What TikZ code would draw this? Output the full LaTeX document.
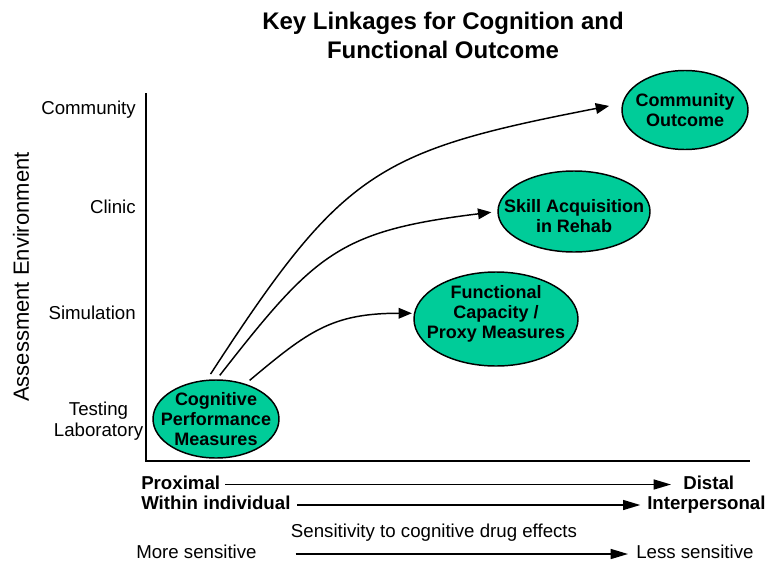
\documentclass[tikz,border=0pt]{standalone}
\usepackage{fontspec}
\setmainfont{Liberation Sans}
\usepackage{xcolor}
\usetikzlibrary{shapes.geometric}
\usetikzlibrary{arrows.meta}
\usetikzlibrary {positioning}
\definecolor{ovalgreen}{RGB}{0,204,153}
\tikzset{main node/.style={ellipse,fill=ovalgreen,draw,line width=1.1pt,inner sep=0pt}}
\tikzset{oval text/.style={font=\fontsize{13.5}{15}\selectfont\bfseries,align=center,inner sep=0pt}}
\tikzset{side label/.style={font=\fontsize{14}{16}\selectfont,inner sep=0pt}}
\tikzset{scale label/.style={font=\fontsize{14}{16}\selectfont,inner sep=0pt,text height=10pt,text depth=3pt}}
\tikzset{link/.style={->,line width=1.1pt,>={Triangle[length=10pt,width=8pt]}}}
\tikzset{scale arrow/.style={->,line width=1.1pt,>={Triangle[length=13pt,width=7.5pt]}}}

\begin{document}
\begin{tikzpicture}[x=0.75pt,y=-0.75pt]
    \useasboundingbox (0,0) rectangle (766,564);

    \node[font=\fontsize{18}{21.75}\selectfont\bfseries,align=center] (title) at (443,35) {Key Linkages for Cognition and\\Functional Outcome};

    % axes
    \draw[line width=1.5pt] (146,93) |- (750,461);

    \node[font=\fontsize{16.5}{19}\selectfont,rotate=90] (env) at (21,277) {Assessment Environment};
    \node[side label,anchor=east] (y_{1}) at (136,110) {Community};
    \node[side label,anchor=east] (y_{2}) at (136,207) {Clinic};
    \node[side label,anchor=east] (y_{3}) at (136,313) {Simulation};
    \node[side label,align=center] (y_{4}) at (98.5,421) {Testing\\Laboratory};

    \node[main node,minimum width=94.5pt,minimum height=58.5pt,label={[oval text]center:Cognitive\\Performance\\Measures}] (v_{1}) at (216,419) {};
    \node[main node,minimum width=123pt,minimum height=70.5pt,label={[oval text,yshift=3.5pt]center:Functional\\Capacity /\\Proxy Measures}] (v_{2}) at (496,319) {};
    \node[main node,minimum width=114pt,minimum height=60.75pt,label={[oval text,yshift=-3.5pt]center:Skill Acquisition\\in Rehab}] (v_{3}) at (574,211.5) {};
    \node[main node,minimum width=94.5pt,minimum height=59.25pt,label={[oval text]center:Community\\Outcome}] (v_{4}) at (685,110) {};

    \path [link]
    (v_{1}.103) edge[out=57,in=191,looseness=1.28,shorten <=5pt,shorten >=10pt] (v_{4}.174)
    (v_{1}.89) edge[out=52,in=187,looseness=1.25,shorten <=3.75pt,shorten >=4.5pt] (v_{3}.west)
    (v_{1}.50) edge[out=40,in=180,looseness=1.15,shorten <=4pt,shorten >=1.5pt] (v_{2}.176);

    % scales below the axis
    \node[scale label,font=\fontsize{14}{16}\selectfont\bfseries,anchor=west] (prox) at (141,484.5) {Proximal};
    \node[scale label,font=\fontsize{14}{16}\selectfont\bfseries,anchor=west] (dist) at (683,484.5) {Distal};
    \node[scale label,font=\fontsize{14}{16}\selectfont\bfseries,anchor=west] (within) at (141,505) {Within individual};
    \node[scale label,font=\fontsize{14}{16}\selectfont\bfseries,anchor=west] (inter) at (647,505) {Interpersonal};
    \node[scale label] (sens) at (434,533) {Sensitivity to cognitive drug effects};
    \node[scale label,anchor=west] (more) at (136,554) {More sensitive};
    \node[scale label,anchor=west] (less) at (636,554) {Less sensitive};

    \draw[scale arrow,shorten <=3.5pt,shorten >=9pt] (prox.east) -- (prox.east -| dist.west);
    \draw[scale arrow,shorten <=5pt,shorten >=5pt] (within.east) -- (within.east -| inter.west);
    \draw[scale arrow,shorten <=29pt,shorten >=6pt] (more.east) -- (more.east -| less.west);

\end{tikzpicture}
\end{document}
